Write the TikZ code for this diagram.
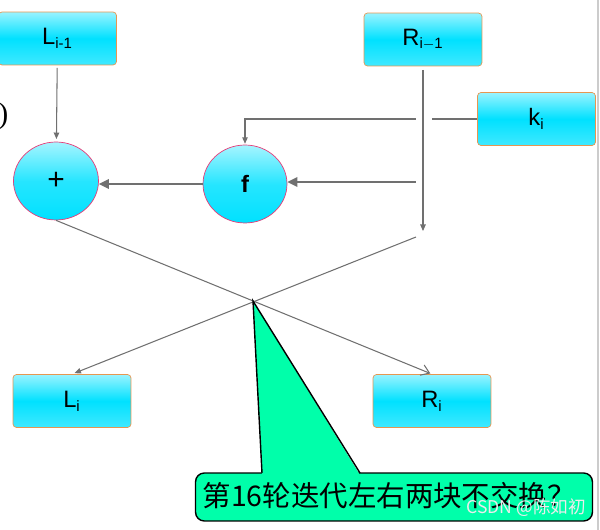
\documentclass[tikz,border=0pt]{standalone}
\usepackage{fontspec}
\setmainfont{Liberation Sans}
\newfontfamily\serif{Liberation Serif}
\newfontfamily\cjk{Noto Sans CJK SC}
\usetikzlibrary{arrows.meta,positioning,shapes.geometric}

\definecolor{boxcyan}{RGB}{0,225,255}
\definecolor{boxedge}{RGB}{230,150,80}
\definecolor{ringedge}{RGB}{230,60,120}
\definecolor{notegreen}{RGB}{0,255,170}
\definecolor{wire}{RGB}{112,112,112}

\begin{document}
\begin{tikzpicture}[
            x=0.02cm,y=-0.02cm,
            every node/.append style={black},
            block/.style={draw=boxedge,rounded corners=2pt,minimum width=2.36cm,minimum height=1.06cm,
                top color=boxcyan!40!white,bottom color=boxcyan!75!white,middle color=boxcyan,
                font=\fontsize{13.5}{15}\selectfont},
            ring/.style={ellipse,draw=ringedge,minimum width=1.7cm,minimum height=1.56cm,
                top color=boxcyan!35!white,bottom color=boxcyan,middle color=boxcyan!85!white},
            wireto/.style={draw=wire,line width=0.6pt,-{Triangle[length=1.3mm,width=1.1mm]}},
            bigwire/.style={draw=wire,line width=1.1pt,-{Triangle[length=2mm,width=1.9mm]}},
            plainwire/.style={draw=wire,line width=0.6pt}
        ]
            \useasboundingbox (0,0) rectangle (600,530);
            \draw[black!20,line width=0.8pt] (598,0) -- (598,530);

            % inputs
            \node[block] (Lprev) at (57.5,38.5) {L\textsubscript{\fontsize{8.5}{9}\selectfont i-1}};
            \node[block] (Rprev) at (423,39.5) {R\textsubscript{\fontsize{8.5}{9}\selectfont i$-$1}};
            \node[block] (key)   at (536.5,119) {k\textsubscript{\fontsize{8.5}{9}\selectfont i}};
            \node[font=\serif\fontsize{17}{19}\selectfont,anchor=west,inner sep=0pt] (paren) at (-2,116) {)};

            % round function
            \node[ring,font=\fontsize{17}{19}\selectfont] (xor) at (56,181) {+};
            \node[ring,minimum width=1.68cm,font=\bfseries\fontsize{13.5}{15}\selectfont] (func) at (245,184) {f};

            % outputs
            \node[block] (Lnext) at (72,401) {L\textsubscript{\fontsize{8.5}{9}\selectfont i}};
            \node[block] (Rnext) at (432,401) {R\textsubscript{\fontsize{8.5}{9}\selectfont i}};

            \coordinate (kcut)  at (432,119);
            \coordinate (kgo)   at (416,119);
            \coordinate (kturn) at (245,119);
            \coordinate (rdown) at (423,231);
            \coordinate (rfeed) at (416,182);
            \coordinate (rswap) at (416,237);
            \coordinate (cross) at (253,301);

            \draw[wireto,shorten <=1.5pt,shorten >=1.5pt] (Lprev) -- (xor);
            \draw[wireto,shorten <=2pt] (Rprev.south) -- (rdown);
            \draw[plainwire] (key.west) -- (kcut);
            \draw[wireto,shorten >=0.5pt] (kgo) -- (kturn) -- (func.north);
            \draw[bigwire] (rfeed) -- (rfeed -| func.east);
            \draw[bigwire] (func.west) -- (func.west -| xor.east);
            \draw[draw=wire,line width=0.6pt,-{Straight Barb[length=1.6mm,width=2.2mm]},shorten >=1pt] (xor.south) -- (Rnext.north);
            \draw[wireto,shorten >=1.5pt] (rswap) -- (Lnext.north);

            % callout
            \node[draw=black,line width=0.8pt,fill=notegreen,rounded corners=5pt,
                minimum width=7.94cm,minimum height=0.96cm] (note) at (394,497) {};
            \fill[notegreen] (cross) -- (262,475) -- (360,475) -- cycle;
            \draw[black,line width=0.8pt] (262,473) -- (cross) -- (360,473);
            \node[anchor=west,inner sep=0pt,font=\cjk\fontsize{16.2}{18}\selectfont] (notetext)
                at ([xshift=0.15cm,yshift=0.02cm]note.west) {第16轮迭代左右两块不交换？};
            \node[anchor=east,inner sep=0pt,text=white!85!gray,font=\cjk\fontsize{10}{11}\selectfont] (mark)
                at ([xshift=-0.14cm,yshift=-0.22cm]note.east) {CSDN @陈如初};
        \end{tikzpicture}
\end{document}
